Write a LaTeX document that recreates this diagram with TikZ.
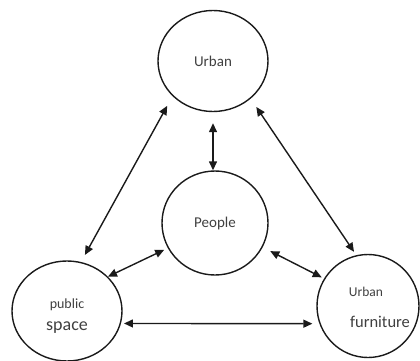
\documentclass[tikz,border=0pt]{standalone}
\usepackage{fontspec}
\setmainfont{Carlito}
\usetikzlibrary{shapes.geometric,arrows.meta}
\definecolor{ink}{HTML}{1A1A1A}
\definecolor{txt}{HTML}{404040}
\tikzset{
  bubble/.style={ellipse, draw=ink, line width=1.4pt, inner sep=0pt, fill=white},
  link/.style={draw=ink, line width=1.4pt, {Triangle[length=9pt,width=8pt]}-{Triangle[length=9pt,width=8pt]}},
  lbl/.style={text=txt, inner sep=0pt}
}
\begin{document}
\begin{tikzpicture}[x=1pt,y=-1pt]
\useasboundingbox (0,0) rectangle (420,361);
\node[bubble, minimum width=110pt, minimum height=101pt] (urban) at (213,61) {};
\node[bubble, minimum width=106pt, minimum height=104pt] (people) at (215,223) {};
\node[bubble, minimum width=110pt, minimum height=100pt] (pub) at (67,311) {};
\node[bubble, minimum width=102pt, minimum height=103pt] (furn) at (368,306) {};
\node[lbl, font=\fontsize{15}{15}\selectfont] (turban) at (urban.center) {Urban};
\node[lbl, font=\fontsize{15}{15}\selectfont] (tpeople) at (people.center) {People};
\node[lbl, font=\fontsize{14}{14}\selectfont] (tpublic) at (67,305) {public};
\node[lbl, font=\fontsize{18}{18}\selectfont] (tspace) at (67,328) {space};
\node[lbl, font=\fontsize{13.5}{13.5}\selectfont] (turb2) at (366,292) {Urban};
\node[lbl, font=\fontsize{16.5}{16.5}\selectfont] (tfurn) at (380,322) {furniture};
% connectors
\draw[link, shorten <=11pt] (urban.south) -- (urban.south |- people.north);
\draw[link, shorten <=11pt, shorten >=8pt] (urban.221.9) -- (pub.74.1);
\draw[link, shorten <=10pt, shorten >=4pt] (urban.315.6) -- (furn.103.5);
\draw[link, shorten <=4pt, shorten >=0pt] (people.208.4) -- (pub.40.4);
\draw[link, shorten <=8.5pt, shorten >=2.6pt] (people.333.9) -- (furn.148.7);
\draw[link, shorten <=3pt, shorten >=7pt] (pub.-13.8) -- (furn.200.6);
\end{tikzpicture}
\end{document}
